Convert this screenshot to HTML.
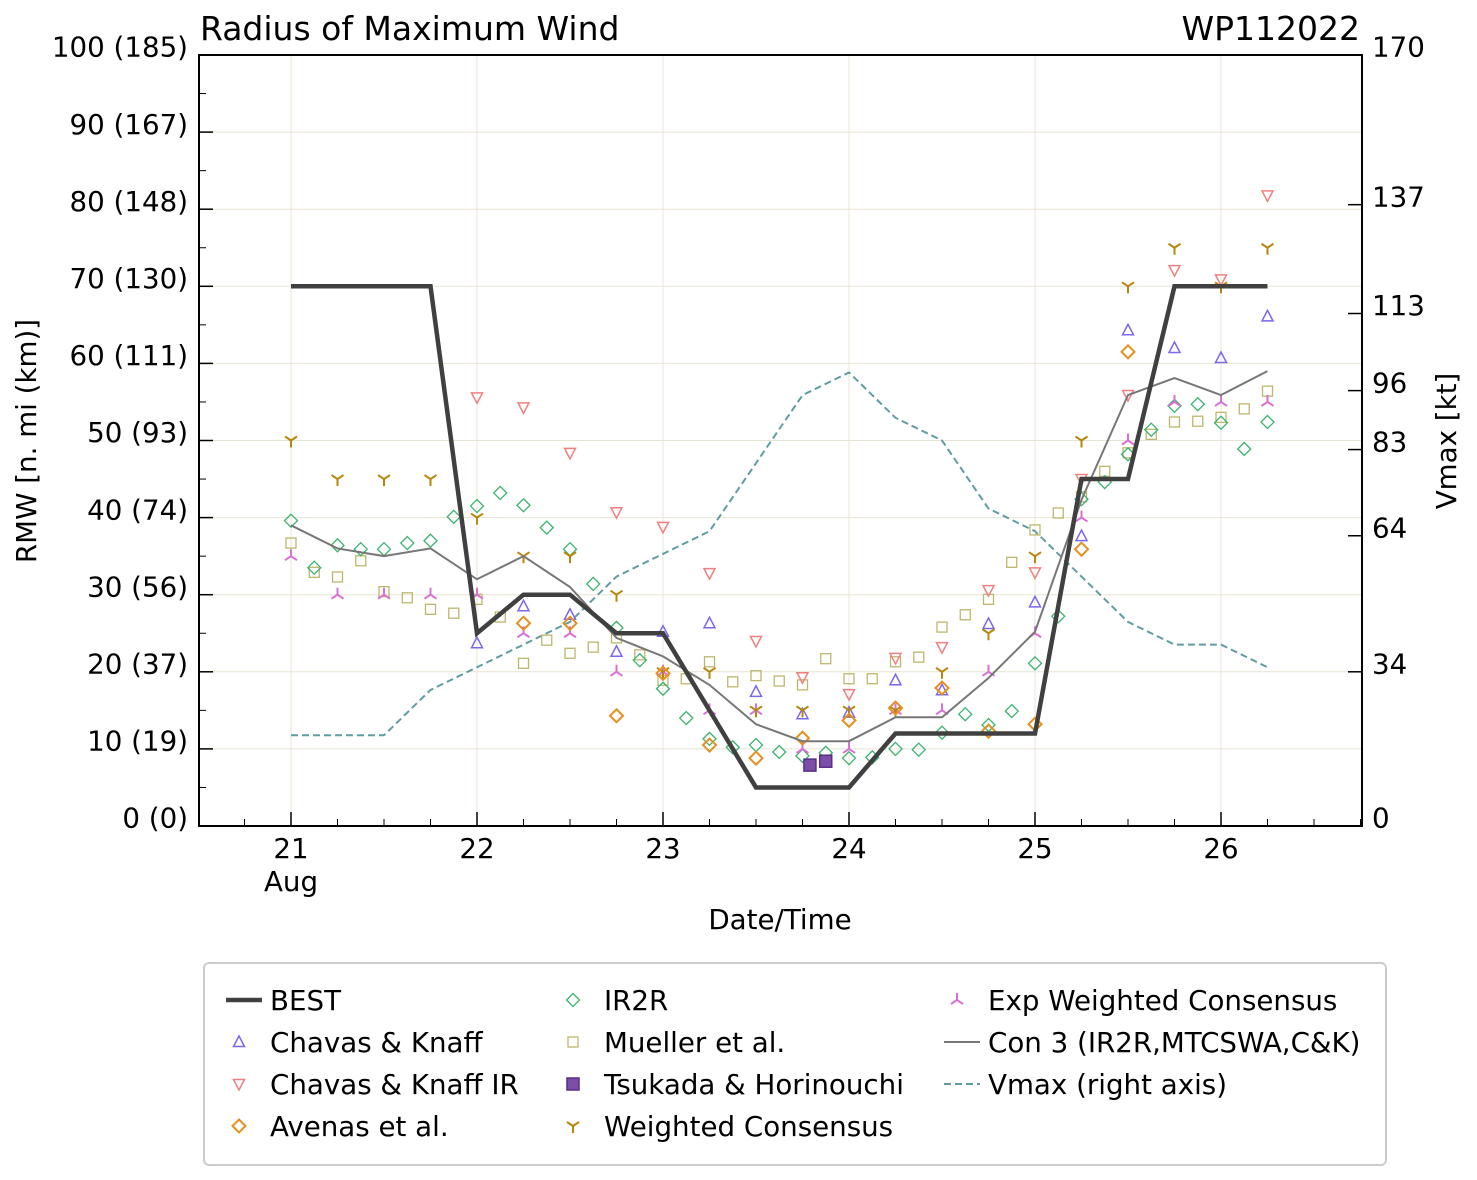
<!DOCTYPE html>
<html><head><meta charset="utf-8">
<style>
html,body{margin:0;padding:0;background:#fff;}
svg{display:block;font-family:"DejaVu Sans","Liberation Sans",sans-serif;}
</style></head>
<body>
<svg id="chart" width="1477" height="1180" viewBox="0 0 1477 1180" xmlns="http://www.w3.org/2000/svg">
<text x="200" y="40" font-size="33">Radius of Maximum Wind</text>
<text x="1360" y="40" font-size="33" text-anchor="end">WP112022</text>
<g id="grid"></g>
<g id="axes"></g>
<g id="series"></g>
<rect x="199" y="55" width="1163" height="771" fill="none" stroke="#000" stroke-width="2"/>
<text x="780" y="929" font-size="27.7" text-anchor="middle">Date/Time</text>
<text transform="translate(36,441) rotate(-90)" font-size="27.7" text-anchor="middle">RMW [n. mi (km)]</text>
<text transform="translate(1456,441) rotate(-90)" font-size="27.7" text-anchor="middle">Vmax [kt]</text>
<g id="legend"></g>
</svg>
<script>
const bestT=[21,21.25,21.5,21.75,22,22.25,22.5,22.75,23,23.25,23.5,23.75,24,24.25,24.5,24.75,25,25.25,25.5,25.75,26,26.25];
const bestV=[70,70,70,70,25,30,30,25,25,15,5,5,5,12,12,12,12,45,45,70,70,70];
const vmaxV=[20,20,20,30,35,40,45,55,60,65,80,95,100,90,85,70,65,55,45,40,40,35];
const con3V=[39,36,35,36,32,35,31,24.4,22,18.3,13.2,11,11,14.1,14.1,19.2,25.2,42.3,55.9,58.1,55.9,59];
const ckT=[22,22.25,22.5,22.75,23,23.25,23.5,23.75,24,24.25,24.5,24.75,25,25.25,25.5,25.75,26,26.25];
const ckV=[23.7,28.5,27.4,22.6,25.2,26.3,17.4,14.5,14.7,18.9,17.6,26.2,29,37.6,64.3,62,60.7,66.1];
const ckirV=[55.6,54.3,48.4,40.7,38.8,32.8,24,19.3,17.1,21.8,23.2,30.6,32.9,45,55.9,72.1,70.9,81.8];
const avT=[22.25,22.5,22.75,23,23.25,23.5,23.75,24,24.25,24.5,24.75,25,25.25,25.5];
const avV=[26.3,26.3,14.3,19.8,10.5,8.8,11.4,13.7,15.3,17.9,12.3,13.2,35.9,61.5];
const irT=[21,21.125,21.25,21.375,21.5,21.625,21.75,21.875,22,22.125,22.25,22.375,22.5,22.625,22.75,22.875,23,23.125,23.25,23.375,23.5,23.625,23.75,23.875,24,24.125,24.25,24.375,24.5,24.625,24.75,24.875,25,25.125,25.25,25.375,25.5,25.625,25.75,25.875,26,26.125,26.25];
const irV=[39.6,33.5,36.4,35.9,35.9,36.7,37,40.1,41.5,43.2,41.6,38.7,35.9,31.4,25.7,21.5,17.8,14,11.3,10.2,10.5,9.6,9.1,9.5,8.8,8.9,10,9.9,12.1,14.5,13.1,14.9,21.1,27.2,42.4,44.6,48.2,51.4,54.5,54.7,52.3,48.9,52.4];
const muV=[36.7,32.9,32.3,34.4,30.4,29.6,28.1,27.6,29.4,27.1,21.1,24.1,22.4,23.2,24.4,22.2,18.9,19.1,21.3,18.7,19.5,18.8,18.3,21.7,19.1,19.1,21.3,21.9,25.8,27.4,29.4,34.2,38.4,40.6,42.7,46,48.4,50.8,52.4,52.5,53,54.1,56.4];
const tsT=[23.79,23.875];
const tsV=[7.9,8.4];
const wcV=[50,45,45,45,40,35,35,30,20,20,15,15,15,15,20,25,35,50,70,75,70,75];
const ewV=[35,30,30,30,30,25,25,20,20,15,15,10,10,15,15,20,25,40,50,55,55,55];
const xTickLabels=["21","22","23","24","25","26"];
const yTickLabels=["0 (0)","10 (19)","20 (37)","30 (56)","40 (74)","50 (93)","60 (111)","70 (130)","80 (148)","90 (167)","100 (185)"];
const rTicks=[0,34,64,83,96,113,137,170];

const NS="http://www.w3.org/2000/svg";
const X=t=>291+(t-21)*186;
const Y=v=>826-v*7.71;
const YR=v=>826-v*771/170;
function mk(tag,attrs,parent){const e=document.createElementNS(NS,tag);for(const k in attrs)e.setAttribute(k,attrs[k]);parent.appendChild(e);return e;}
const grid=document.getElementById('grid'),axes=document.getElementById('axes'),ser=document.getElementById('series'),leg=document.getElementById('legend');

for(let d=0;d<6;d++){const x=X(21+d);
 const g=mk('line',{x1:x,x2:x,y1:55,y2:826,stroke:'#e8e4d4','stroke-width':1},grid);
 
 const tk=mk('line',{x1:x,x2:x,y1:826,y2:812,stroke:'#000','stroke-width':1.5},axes);
 
 const tx=mk('text',{x:x,y:858,'font-size':27.7,'text-anchor':'middle'},axes);tx.textContent=xTickLabels[d];
 
}
const aug=mk('text',{x:X(21),y:891,'font-size':27.7,'text-anchor':'middle'},axes);aug.textContent='Aug';

for(let t=20.75;t<=26.75;t+=0.25){if(Math.abs(t-Math.round(t))<0.01)continue;const x=X(t);if(x<199||x>1362)continue;
 const m=mk('line',{x1:x,x2:x,y1:826,y2:819,stroke:'#000','stroke-width':1},axes);
 }
for(let i=0;i<=10;i++){const y=Y(i*10);
 if(i>0&&i<10){const g=mk('line',{x1:199,x2:1362,y1:y,y2:y,stroke:'#e8e4d4','stroke-width':1},grid);
 }
 const tk=mk('line',{x1:199,x2:213,y1:y,y2:y,stroke:'#000','stroke-width':1.5},axes);
 
 const tx=mk('text',{x:188,y:y-8,dy:'0.35em','font-size':27.7,'text-anchor':'end'},axes);tx.textContent=yTickLabels[i];
 
}
for(let i=0;i<10;i++){const y=Y(i*10+5);
 const m=mk('line',{x1:199,x2:206,y1:y,y2:y,stroke:'#000','stroke-width':1},axes);
 }
rTicks.forEach(v=>{const y=YR(v);
 const tk=mk('line',{x1:1348,x2:1362,y1:y,y2:y,stroke:'#000','stroke-width':1.5},axes);
 
 const tx=mk('text',{x:1372,y:(v==0?y-8:y-8),dy:'0.35em','font-size':27.7},axes);tx.textContent=v;
 
});

function marker(type,x,y,col,parent){
 let e;
 if(type==='tu'){e=mk('path',{d:`M${x},${y-6}L${x+5.5},${y+4.5}L${x-5.5},${y+4.5}Z`,fill:'none',stroke:col,'stroke-width':1.5},parent);}
 else if(type==='td'){e=mk('path',{d:`M${x},${y+6}L${x+5.5},${y-4.5}L${x-5.5},${y-4.5}Z`,fill:'none',stroke:col,'stroke-width':1.5},parent);}
 else if(type==='dm'){e=mk('path',{d:`M${x},${y-6.5}L${x+6.5},${y}L${x},${y+6.5}L${x-6.5},${y}Z`,fill:'none',stroke:col,'stroke-width':2},parent);}
 else if(type==='dmt'){e=mk('path',{d:`M${x},${y-6.5}L${x+6.5},${y}L${x},${y+6.5}L${x-6.5},${y}Z`,fill:'none',stroke:col,'stroke-width':1.3},parent);}
 else if(type==='sq'){e=mk('rect',{x:x-5,y:y-5,width:10,height:10,fill:'none',stroke:col,'stroke-width':1.3},parent);}
 else if(type==='sqf'){e=mk('rect',{x:x-6,y:y-6,width:12,height:12,fill:'#7b4fa8',stroke:'#5a2d8a','stroke-width':1.5},parent);}
 else if(type==='y1'){e=mk('path',{d:`M${x},${y}L${x},${y+7}M${x},${y}L${x-6},${y-4}M${x},${y}L${x+6},${y-4}`,fill:'none',stroke:col,'stroke-width':2},parent);}
 else if(type==='y2'){e=mk('path',{d:`M${x},${y}L${x},${y-7}M${x},${y}L${x-6},${y+4}M${x},${y}L${x+6},${y+4}`,fill:'none',stroke:col,'stroke-width':2},parent);}
 return e;
}
function line(ts,vs,yf,attrs,name){const d=ts.map((t,i)=>(i?'L':'M')+X(t)+','+yf(vs[i])).join('');
 const p=mk('path',Object.assign({d:d,fill:'none'},attrs),ser);return p;}
function scatter(ts,vs,type,col,name){ts.forEach((t,i)=>{const m=marker(type,X(t),Y(vs[i]),col,ser);
 });}

line(bestT,vmaxV,YR,{stroke:'#5f9ea0','stroke-width':2,'stroke-dasharray':'7,4'},'vmax-line');
scatter(irT,muV,'sq','#bdb76b','mueller-point');
scatter(irT,irV,'dmt','#3cb371','ir2r-point');
scatter(ckT,ckV,'tu','#7b68ee','chavas-knaff-point');
scatter(ckT,ckirV,'td','#f08080','chavas-knaff-ir-point');
scatter(bestT,ewV,'y2','#da70d6','exp-weighted-consensus-point');
scatter(bestT,wcV,'y1','#b8860b','weighted-consensus-point');
scatter(avT,avV,'dm','#e69020','avenas-point');
scatter(tsT,tsV,'sqf','#663399','tsukada-point');
line(bestT,con3V,Y,{stroke:'#777','stroke-width':2},'con3-line');
line(bestT,bestV,Y,{stroke:'#404040','stroke-width':4.5},'best-track-line');

const box=mk('rect',{x:204,y:963,width:1182,height:202,rx:5,fill:'#fff',stroke:'#ccc','stroke-width':2},leg);

const entries=[
 [226,1000,'BEST','ln','#404040'],[226,1042,'Chavas & Knaff','tu','#7b68ee'],[226,1084,'Chavas & Knaff IR','td','#f08080'],[226,1126,'Avenas et al.','dm','#e69020'],
 [560,1000,'IR2R','dmt','#3cb371'],[560,1042,'Mueller et al.','sq','#bdb76b'],[560,1084,'Tsukada & Horinouchi','sqf','#663399'],[560,1126,'Weighted Consensus','y1','#b8860b'],
 [944,1000,'Exp Weighted Consensus','y2','#da70d6'],[944,1042,'Con 3 (IR2R,MTCSWA,C&K)','ln2','#777'],[944,1084,'Vmax (right axis)','ln3','#5f9ea0']];
entries.forEach(e=>{const [x,y,lab,type,col]=e;let m;
 if(type==='ln')m=mk('line',{x1:x,x2:x+36,y1:y,y2:y,stroke:col,'stroke-width':4.5},leg);
 else if(type==='ln2')m=mk('line',{x1:x,x2:x+36,y1:y,y2:y,stroke:col,'stroke-width':2},leg);
 else if(type==='ln3')m=mk('line',{x1:x,x2:x+36,y1:y,y2:y,stroke:col,'stroke-width':2,'stroke-dasharray':'7,4'},leg);
 else m=marker(type,x+13,y,col,leg);
 
 const t=mk('text',{x:x+44,y:y+10,'font-size':27.7},leg);t.textContent=lab;
 
});
</script>
</body></html>
